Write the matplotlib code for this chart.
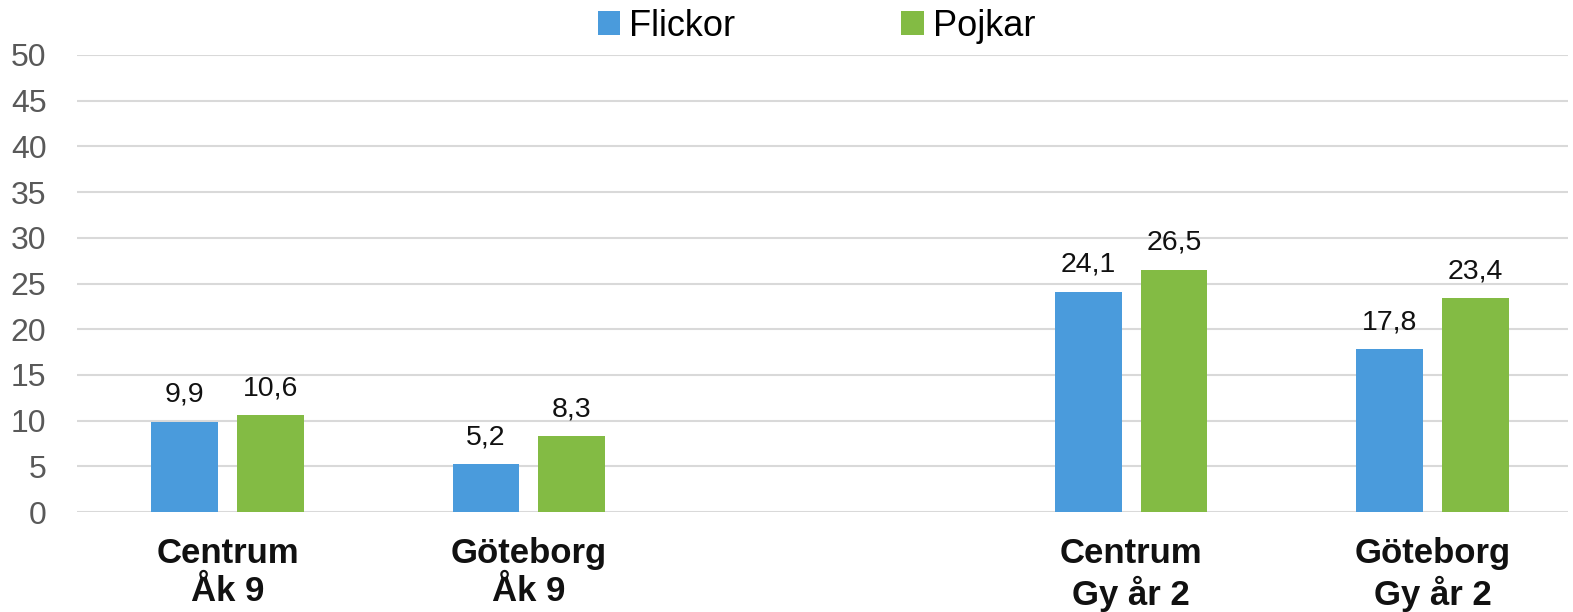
# stapeldiagram: flickor och pojkar per område
import matplotlib.pyplot as plt

plt.rcParams['font.family'] = ['Liberation Sans', 'DejaVu Sans']

categories = ['Centrum\nÅk 9', 'Göteborg\nÅk 9', '', 'Centrum\nGy år 2', 'Göteborg\nGy år 2']
flickor = [9.9, 5.2, None, 24.1, 17.8]
pojkar = [10.6, 8.3, None, 26.5, 23.4]
series_names = ['Flickor', 'Pojkar']
colors = ['#4A9BDC', '#83BB44']

fig = plt.figure(figsize=(15.73, 6.12), dpi=100)
ax = fig.add_axes([77 / 1573, 100 / 612, 1491 / 1573, 457 / 612])

width = 0.222
offset = 0.142
for vals, sign, name, col in zip([flickor, pojkar], [-1, 1], series_names, colors):
    xs = [i + sign * offset for i, v in enumerate(vals) if v is not None]
    ys = [v for v in vals if v is not None]
    bars = ax.bar(xs, ys, width=width, color=col, label=name, zorder=3)
    for b, v in zip(bars, ys):
        ax.annotate(f'{v:.1f}'.replace('.', ','),
                    (b.get_x() + b.get_width() / 2, b.get_height()),
                    xytext=(0, 10), textcoords='offset points',
                    ha='center', va='bottom', fontsize=20.5, color='#111111')

ax.set_ylim(0, 50)
ax.set_xlim(-0.5, 4.45)
ax.set_yticks(range(0, 51, 5))
ax.set_xticks(range(len(categories)))
ax.set_xticklabels(categories, fontsize=25, fontweight='bold', color='#111111')
ax.tick_params(axis='x', length=0, pad=18)
ax.tick_params(axis='y', length=0, pad=22, labelsize=23, labelcolor='#595959')
ax.grid(axis='y', color='#d9d9d9', linewidth=1.5, zorder=0)
for s in ax.spines.values():
    s.set_visible(False)

fig.legend(loc='center', bbox_to_anchor=(0.519, 0.957), ncol=2, frameon=False,
           fontsize=26, handlelength=0.62, handleheight=0.62, handletextpad=0.25,
           columnspacing=4.6)

plt.savefig('out.png', dpi=100)
